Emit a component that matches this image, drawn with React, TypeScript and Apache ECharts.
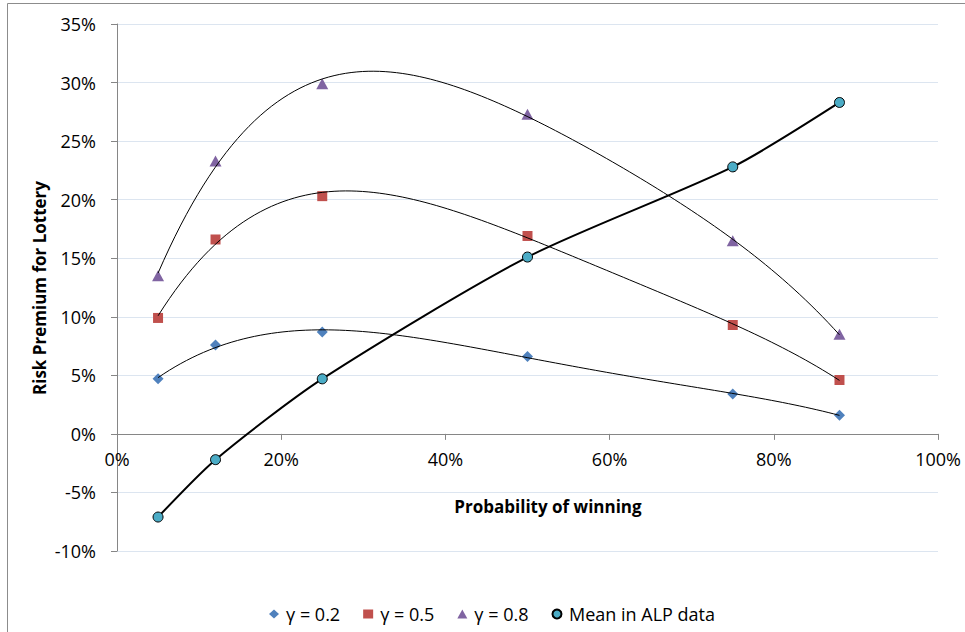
import { useEffect, useRef } from "react";
import * as echarts from "echarts";

// Probability of winning for each lottery
const winProb = [0.05, 0.12, 0.25, 0.5, 0.75, 0.88];

// Simulated risk premium for three curvature levels
const gamma02 = [0.047, 0.076, 0.087, 0.066, 0.034, 0.016];
const gamma05 = [0.099, 0.166, 0.203, 0.169, 0.093, 0.046];
const gamma08 = [0.135, 0.233, 0.299, 0.273, 0.165, 0.085];

// Observed mean risk premium
const alpMean = [-0.071, -0.022, 0.047, 0.151, 0.228, 0.283];

const seriesNames = ["γ = 0.2", "γ = 0.5", "γ = 0.8", "Mean in ALP data"];
const xTitle = "Probability of winning";
const yTitle = "Risk Premium for Lottery";

const Y_MIN = -0.1;
const Y_MAX = 0.35;
const GRID = { left: 117, right: 27, top: 24, bottom: 81 };
const HEIGHT = 632;

const FONT = "'Open Sans', 'Liberation Sans', sans-serif";

// Least-squares polynomial fit (normal equations + Gaussian elimination)
function polyfit(xs: number[], ys: number[], deg: number): number[] {
  const n = deg + 1;
  const A: number[][] = [];
  const b: number[] = [];
  for (let i = 0; i < n; i++) {
    A.push([]);
    for (let j = 0; j < n; j++) {
      let s = 0;
      xs.forEach((x) => (s += Math.pow(x, i + j)));
      A[i].push(s);
    }
    let t = 0;
    xs.forEach((x, k) => (t += ys[k] * Math.pow(x, i)));
    b.push(t);
  }
  for (let c = 0; c < n; c++) {
    let p = c;
    for (let r = c + 1; r < n; r++) if (Math.abs(A[r][c]) > Math.abs(A[p][c])) p = r;
    [A[c], A[p]] = [A[p], A[c]];
    [b[c], b[p]] = [b[p], b[c]];
    for (let r = c + 1; r < n; r++) {
      const f = A[r][c] / A[c][c];
      for (let k = c; k < n; k++) A[r][k] -= f * A[c][k];
      b[r] -= f * b[c];
    }
  }
  const coef = new Array(n).fill(0);
  for (let r = n - 1; r >= 0; r--) {
    let s = b[r];
    for (let k = r + 1; k < n; k++) s -= A[r][k] * coef[k];
    coef[r] = s / A[r][r];
  }
  return coef;
}

function trendPoints(xs: number[], ys: number[], deg: number): number[][] {
  const coef = polyfit(xs, ys, deg);
  const x0 = xs[0];
  const x1 = xs[xs.length - 1];
  const steps = 120;
  const out: number[][] = [];
  for (let i = 0; i <= steps; i++) {
    const x = x0 + ((x1 - x0) * i) / steps;
    let y = 0;
    coef.forEach((c, k) => (y += c * Math.pow(x, k)));
    out.push([x, y]);
  }
  return out;
}

const pct = (v: number) => `${Math.round(v * 100)}%`;

export default function App() {
  const ref = useRef<HTMLDivElement>(null);

  useEffect(() => {
    if (!ref.current) return;
    const chart = echarts.init(ref.current, undefined, { renderer: "svg" });

    const pairs = (ys: number[]) => winProb.map((x, i) => [x, ys[i]]);
    const trend = (name: string, ys: number[]) => ({
      name: name + " trend",
      type: "line",
      data: trendPoints(winProb, ys, 4),
      showSymbol: false,
      symbol: "none",
      silent: true,
      lineStyle: { color: "#000", width: 1 },
      z: 4,
    });

    // lift the x axis from the bottom edge up to the zero line
    const plotH = HEIGHT - GRID.top - GRID.bottom;
    const zeroOffset = (plotH * (0 - Y_MIN)) / (Y_MAX - Y_MIN);

    chart.setOption({
      animation: false,
      backgroundColor: "#fff",
      grid: { ...GRID, containLabel: false },
      xAxis: {
        type: "value",
        min: 0,
        max: 1,
        interval: 0.2,
        position: "bottom",
        offset: -zeroOffset,
        axisLine: { show: true, onZero: false, lineStyle: { color: "#868686", width: 1 } },
        axisTick: { show: true, inside: false, length: 6, lineStyle: { color: "#868686" } },
        axisLabel: { formatter: pct, color: "#000", fontFamily: FONT, fontSize: 18, margin: 16 },
        splitLine: { show: false },
      },
      yAxis: {
        type: "value",
        min: Y_MIN,
        max: Y_MAX,
        interval: 0.05,
        axisLine: { show: true, onZero: false, lineStyle: { color: "#868686", width: 1 } },
        axisTick: { show: true, inside: false, length: 6, lineStyle: { color: "#868686" } },
        axisLabel: { formatter: pct, color: "#000", fontFamily: FONT, fontSize: 18, margin: 21 },
        splitLine: { show: true, lineStyle: { color: "#dce5f0", width: 1 } },
      },
      legend: {
        left: 264,
        top: 600,
        itemWidth: 10,
        itemHeight: 9,
        itemGap: 23,
        textStyle: { color: "#000", fontFamily: FONT, fontSize: 18, padding: [0, 0, 0, 2] },
        data: [
          { name: seriesNames[0], icon: "diamond" },
          { name: seriesNames[1], icon: "rect" },
          { name: seriesNames[2], icon: "triangle" },
          { name: seriesNames[3], icon: "circle" },
        ],
      },
      graphic: [
        {
          type: "rect",
          shape: { x: 7.5, y: 3.5, width: 1200, height: 1000 },
          style: { fill: "none", stroke: "#8c8c8c", lineWidth: 1 },
          silent: true,
          z: -10,
        },
        {
          type: "text",
          x: 39,
          y: 288,
          rotation: Math.PI / 2,
          style: {
            text: yTitle,
            fill: "#000",
            font: `bold 17px ${FONT}`,
            align: "center",
            verticalAlign: "middle",
          },
        },
        {
          type: "text",
          x: 548,
          y: 506,
          style: {
            text: xTitle,
            fill: "#000",
            font: `bold 17px ${FONT}`,
            align: "center",
            verticalAlign: "middle",
          },
        },
      ],
      series: [
        {
          name: seriesNames[0],
          type: "scatter",
          data: pairs(gamma02),
          symbol: "diamond",
          symbolSize: 11,
          itemStyle: { color: "#4F81BD", opacity: 1 },
          z: 3,
        },
        trend(seriesNames[0], gamma02),
        {
          name: seriesNames[1],
          type: "scatter",
          data: pairs(gamma05),
          symbol: "rect",
          symbolSize: 10,
          itemStyle: { color: "#C0504D", opacity: 1 },
          z: 3,
        },
        trend(seriesNames[1], gamma05),
        {
          name: seriesNames[2],
          type: "scatter",
          data: pairs(gamma08),
          symbol: "triangle",
          symbolSize: [12, 11],
          itemStyle: { color: "#8064A2", opacity: 1 },
          z: 3,
        },
        trend(seriesNames[2], gamma08),
        {
          name: seriesNames[3],
          type: "line",
          data: pairs(alpMean),
          smooth: 0.25,
          symbol: "circle",
          symbolSize: 10,
          showSymbol: true,
          itemStyle: { color: "#4BACC6", borderColor: "#000", borderWidth: 1 },
          lineStyle: { color: "#000", width: 2 },
          z: 5,
        },
      ],
    });

    return () => chart.dispose();
  }, []);

  return (
    <div
      ref={ref}
      style={{ position: "fixed", left: 0, top: 0, width: 965, height: 632 }}
    />
  );
}
